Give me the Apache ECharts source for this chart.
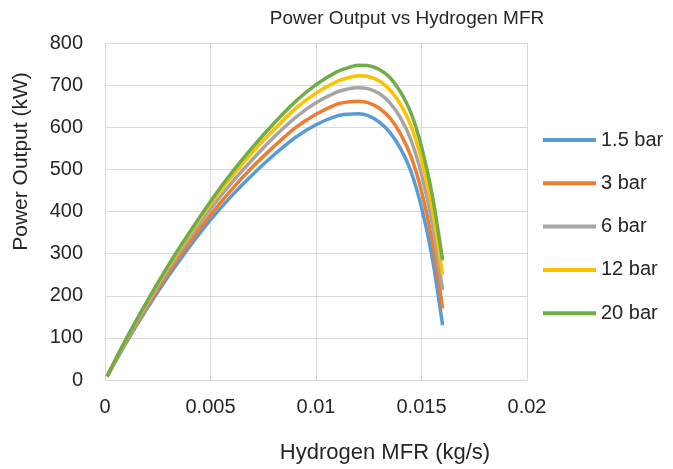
<!DOCTYPE html>
<html><head><meta charset="utf-8">
<script src="https://cdn.jsdelivr.net/npm/echarts@6/dist/echarts.min.js"></script>
<style>html,body{margin:0;padding:0;background:#fff}#c{width:673px;height:469px}</style>
</head><body><div id="c"></div>
<script>
var xValues = [0.0001,0.001,0.002,0.003,0.004,0.005,0.006,0.007,0.008,0.009,0.010,0.011,0.0115,0.012,0.0125,0.013,0.0135,0.014,0.0145,0.015,0.0155,0.016];
var seriesNames = ['1.5 bar','3 bar','6 bar','12 bar','20 bar'];
var p1_5 = [8,88,170,246,316,380,437,488,534,575,606,627,631,632,627,612,588,550,495,410,293,130];
var p3   = [8,91,175,254,326,392,452,506,554,598,631,655,660,662,658,645,622,585,531,448,332,170];
var p6   = [9,93,180,262,337,406,468,524,576,622,658,684,691,694,691,680,658,623,570,488,374,213];
var p12  = [9,96,185,269,346,418,482,541,594,643,681,709,717,722,720,710,689,655,604,523,409,250];
var p20  = [9,97,187,272,350,424,492,553,609,660,701,732,741,747,746,737,718,684,634,554,442,284];
var yTicks = [0,100,200,300,400,500,600,700,800];
var xTicks = [0,0.005,0.01,0.015,0.02];

var colors = ['#5B9BD5','#ED7D31','#A5A5A5','#FFC000','#70AD47'];
var allData = [p1_5,p3,p6,p12,p20];
var font = 'Liberation Sans';
var txt = '#262626';
var chart = echarts.init(document.getElementById('c'), null, {renderer:'canvas'});
chart.setOption({
  animation:false,
  backgroundColor:'#fff',
  color:colors,
  title:{text:'Power Output vs Hydrogen MFR',left:402,textAlign:'center',top:4,
    textStyle:{fontFamily:font,fontSize:19,fontWeight:'normal',color:txt}},
  grid:{left:105,right:146,top:43,bottom:84,containLabel:false},
  legend:{orient:'vertical',left:543,top:130,padding:0,itemGap:23.3,itemWidth:53,itemHeight:4,icon:'rect',
    data:seriesNames,
    textStyle:{fontFamily:font,fontSize:20,color:txt,lineHeight:20}},
  xAxis:{type:'value',min:xTicks[0],max:xTicks[xTicks.length-1],interval:0.005,
    name:'Hydrogen MFR (kg/s)',nameLocation:'middle',nameGap:62,
    nameTextStyle:{fontFamily:font,fontSize:22,color:txt,padding:[0,0,0,138]},
    axisLine:{show:true,lineStyle:{color:'#d9d9d9',width:1}},
    axisTick:{show:false},
    axisLabel:{fontFamily:font,fontSize:20,color:txt,margin:17,
      formatter:function(v){return String(+v.toFixed(4));}},
    splitLine:{show:true,lineStyle:{color:'#d9d9d9',width:1}}},
  yAxis:{type:'value',min:yTicks[0],max:yTicks[yTicks.length-1],interval:100,
    name:'Power Output (kW)',nameLocation:'middle',nameGap:73,
    nameTextStyle:{fontFamily:font,fontSize:21,color:txt,padding:[0,0,0,100]},
    axisLine:{show:true,lineStyle:{color:'#d9d9d9',width:1}},
    axisTick:{show:false},
    axisLabel:{fontFamily:font,fontSize:20,color:txt,margin:22},
    splitLine:{show:true,lineStyle:{color:'#d9d9d9',width:1}}},
  series:seriesNames.map(function(n,i){
    return {name:n,type:'line',smooth:0.3,symbol:'none',
      lineStyle:{width:3.5,color:colors[i]},
      data:xValues.map(function(x,j){return [x,allData[i][j]];})};
  })
});
</script></body></html>
